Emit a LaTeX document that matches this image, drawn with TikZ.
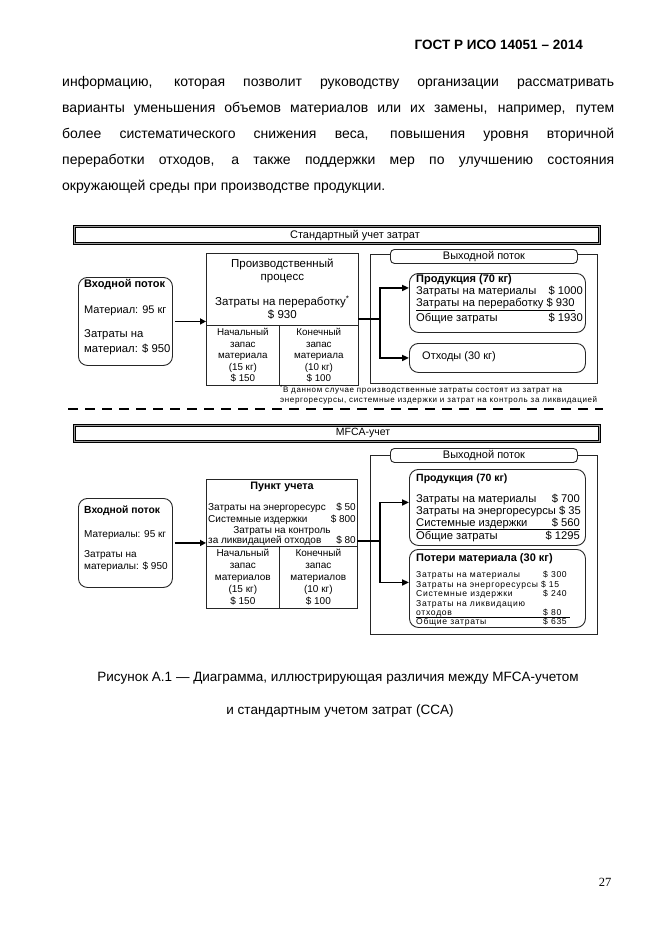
\documentclass[tikz,border=0pt]{standalone}
\usepackage{fontspec}
\setmainfont{Liberation Sans}
\newfontfamily\pagenofont{Liberation Serif}
\newfontfamily\spaced[LetterSpace=8]{Liberation Sans}
\usetikzlibrary{arrows.meta, positioning, calc}
\newcommand{\fs}[1]{\fontsize{#1}{#1}\selectfont}

\begin{document}
\begin{tikzpicture}[x=1pt, y=-1pt,
  lbl/.style={inner sep=0pt, font=\fs{10.5}},
  lft/.style={lbl, anchor=mid west},
  rgt/.style={lbl, anchor=mid east},
  cell/.style={draw=black!85, line width=0.7pt, inner sep=0pt, anchor=north west},
  rbox/.style={draw=black!85, line width=0.9pt, rounded corners=9pt, inner sep=0pt, anchor=north west},
  tabbox/.style={rbox, rounded corners=4pt, fill=white},
  titlebar/.style={draw, line width=1pt, double=black!40, double distance=0.6pt, inner sep=0pt, anchor=north west},
  flow/.style={-{Triangle[length=7pt, width=6pt]}, line width=1.8pt},
  trunk/.style={line width=1.8pt, line cap=rect},
  inflow/.style={-{Triangle[length=6pt, width=6pt]}, line width=1.6pt, shorten <=2pt},
  cutline/.style={line width=1.8pt, dash pattern=on 10pt off 7pt}
]
\fill[white] (0,0) rectangle (662,935);
\useasboundingbox (0,0) rectangle (662,935);

% page text
\node[rgt, font=\fs{13.5}\bfseries] (hdr) at (583,47) {ГОСТ Р ИСО 14051 – 2014};
\node[lft, font=\fs{14}] (par1) at (62,84) {\makebox[552pt][s]{информацию, которая позволит руководству организации рассматривать}};
\node[lft, font=\fs{14}] (par2) at (62,110) {\makebox[552pt][s]{варианты уменьшения объемов материалов или их замены, например, путем}};
\node[lft, font=\fs{14}] (par3) at (62,136) {\makebox[552pt][s]{более систематического снижения веса, повышения уровня вторичной}};
\node[lft, font=\fs{14}] (par4) at (62,162) {\makebox[552pt][s]{переработки отходов, а также поддержки мер по улучшению состояния}};
\node[lft, font=\fs{14}] (par5) at (62,188) {окружающей среды при производстве продукции.};

% ---- standard cost accounting
\node[titlebar, minimum width=525, minimum height=17] (barA) at (74,226) {};
\node[lbl, anchor=mid, font=\fs{11}] (barAt) at (355,236) {Стандартный учет затрат};

\node[rbox, minimum width=94, minimum height=88] (inA) at (78,277) {};
\node[lft, font=\fs{11}\bfseries] (inA1) at (84,285) {Входной поток};
\node[lft, font=\fs{11}] (inA2) at (84,311) {Материал: 95 кг};
\node[lft, font=\fs{11.3}] (inA3) at (84,335) {Затраты на};
\node[lft, font=\fs{11.3}] (inA4) at (84,350) {материал: \$ 950};

\node[cell, minimum width=152, minimum height=72] (procA) at (206,253) {};
\node[cell, minimum width=73, minimum height=60] (stockA1) at (206,325) {};
\node[cell, minimum width=79, minimum height=60] (stockA2) at (279,325) {};
\node[lbl, anchor=center, align=center, font=\fontsize{11.5}{13}\selectfont] (procAt) at (procA)
  {Производственный\\процесс\\[12pt]Затраты на переработку\textsuperscript{*}\\\$ 930};
\node[lbl, align=center, font=\fontsize{9.8}{11.5}\selectfont] (stockA1t) at (stockA1)
  {Начальный\\запас\\материала\\(15 кг)\\\$ 150};
\node[lbl, align=center, font=\fontsize{9.8}{11.5}\selectfont] (stockA2t) at (stockA2)
  {Конечный\\запас\\материала\\(10 кг)\\\$ 100};

\node[cell, minimum width=227, minimum height=129] (outA) at (370,254) {};
\node[tabbox, minimum width=187, minimum height=14] (tabA) at (390,249) {};
\node[lbl, anchor=mid, font=\fs{11}] (tabAt) at (tabA) {Выходной поток};

\node[rbox, minimum width=176, minimum height=59] (prodA) at (409,273) {};
\node[lft, font=\fs{11}\bfseries] (prodA1) at (416,280) {Продукция (70 кг)};
\node[lft, font=\fs{11.2}] (prodA2) at (416,292) {Затраты на материалы};
\node[rgt, font=\fs{11.2}] (prodA2v) at (583,292) {\$ 1000};
\node[lft, font=\fs{11.2}] (prodA3) at (416,304) {\underline{Затраты на переработку \$ 930}};
\node[lft, font=\fs{11.2}] (prodA4) at (416,319) {Общие затраты};
\node[rgt, font=\fs{11.2}] (prodA4v) at (583,319) {\$ 1930};

\node[rbox, minimum width=176, minimum height=29] (wasteA) at (409,343) {};
\node[lft, font=\fs{11}] (wasteAt) at (422,357) {Отходы (30 кг)};

\coordinate (splitA) at (380,319);
\draw[inflow] (inA.east) -- (inA.east -| procA.west);
\draw[trunk] (procA.east |- splitA) -- (splitA);
\draw[flow] (splitA) |- ([yshift=15pt]prodA.west);
\draw[flow] (splitA) |- (wasteA.west);

\node[lft, font=\spaced\fs{8}] (noteA1) at (280,390) {\textsuperscript{*}В данном случае производственные затраты состоят из затрат на};
\node[lft, font=\spaced\fs{8}] (noteA2) at (280,400) {энергоресурсы, системные издержки и затрат на контроль за ликвидацией};

\draw[cutline] (68,409) -- (603,409);

% ---- MFCA
\node[titlebar, minimum width=525, minimum height=16] (barB) at (74,425) {};
\node[lbl, anchor=mid, font=\fs{10.5}] (barBt) at (363,433) {MFCA-учет};

\node[rbox, minimum width=94, minimum height=89] (inB) at (78,498) {};
\node[lft, font=\fs{10.3}\bfseries] (inB1) at (84,511) {Входной поток};
\node[lft, font=\fs{10}] (inB2) at (84,535) {Материалы: 95 кг};
\node[lft, font=\fs{10}] (inB3) at (84,555) {Затраты на};
\node[lft, font=\fs{10}] (inB4) at (84,567) {материалы: \$ 950};

\node[cell, minimum width=151, minimum height=67] (procB) at (206,479) {};
\node[cell, minimum width=73, minimum height=62] (stockB1) at (206,546) {};
\node[cell, minimum width=78, minimum height=62] (stockB2) at (279,546) {};
\node[lbl, anchor=mid, font=\fs{10.8}\bfseries] (procB1) at (282,487) {Пункт учета};
\node[lft, font=\fs{10}] (procB2) at (208,508) {Затраты на энергоресурс};
\node[rgt, font=\fs{10}] (procB2v) at (356,508) {\$ 50};
\node[lft, font=\fs{10}] (procB3) at (208,520) {Системные издержки};
\node[rgt, font=\fs{10}] (procB3v) at (356,520) {\$ 800};
\node[lbl, anchor=mid, font=\fs{10}] (procB4) at (282,531) {Затраты на контроль};
\node[lft, font=\fs{10}] (procB5) at (208,541) {за ликвидацией отходов};
\node[rgt, font=\fs{10}] (procB5v) at (356,541) {\$ 80};
\node[lbl, align=center, font=\fontsize{10}{12}\selectfont] (stockB1t) at (stockB1)
  {Начальный\\запас\\материалов\\(15 кг)\\\$ 150};
\node[lbl, align=center, font=\fontsize{10}{12}\selectfont] (stockB2t) at (stockB2)
  {Конечный\\запас\\материалов\\(10 кг)\\\$ 100};

\node[cell, minimum width=227, minimum height=179] (outB) at (370,455) {};
\node[tabbox, minimum width=187, minimum height=14] (tabB) at (390,448) {};
\node[lbl, anchor=mid, font=\fs{11}] (tabBt) at (tabB) {Выходной поток};

\node[rbox, minimum width=176, minimum height=76] (prodB) at (409,469) {};
\node[lft, font=\fs{10.5}\bfseries] (prodB1) at (416,479) {Продукция (70 кг)};
\node[lft, font=\fs{11.2}] (prodB2) at (416,500) {Затраты на материалы};
\node[rgt, font=\fs{11.2}] (prodB2v) at (580,500) {\$ 700};
\node[lft, font=\fs{11.2}] (prodB3) at (416,512) {Затраты на энергоресурсы \$ 35};
\node[lft, font=\fs{11.2}] (prodB4) at (416,524) {Системные издержки};
\node[rgt, font=\fs{11.2}] (prodB4v) at (580,524) {\$ 560};
\draw[line width=0.7pt] ([yshift=-2.5pt]prodB4.base west) -- ([yshift=-2.5pt]prodB4v.base east);
\node[lft, font=\fs{11.2}] (prodB5) at (416,537) {Общие затраты};
\node[rgt, font=\fs{11.2}] (prodB5v) at (580,537) {\$ 1295};

\node[rbox, minimum width=176, minimum height=78] (lossB) at (409,549) {};
\node[lft, font=\fs{11}\bfseries] (lossB1) at (416,559) {Потери материала (30 кг)};
\node[lft, font=\spaced\fs{8.6}] (lossB2) at (416,575) {Затраты на материалы};
\node[lft, font=\spaced\fs{8.6}] (lossB2v) at (543,575) {\$ 300};
\node[lft, font=\spaced\fs{8.6}] (lossB3) at (416,585) {Затраты на энергоресурсы \$ 15};
\node[lft, font=\spaced\fs{8.6}] (lossB4) at (416,594) {Системные издержки};
\node[lft, font=\spaced\fs{8.6}] (lossB4v) at (543,594) {\$ 240};
\node[lft, font=\spaced\fs{8.6}] (lossB5) at (416,604) {Затраты на ликвидацию};
\node[lft, font=\spaced\fs{8.6}] (lossB6) at (416,613) {отходов};
\node[lft, font=\spaced\fs{8.6}] (lossB6v) at (543,613) {\$ 80};
\draw[line width=0.7pt] ([yshift=-2pt]lossB6.base west) -- ([yshift=-2pt,xshift=8pt]lossB6v.base east);
\node[lft, font=\spaced\fs{8.6}] (lossB7) at (416,622) {Общие затраты};
\node[lft, font=\spaced\fs{8.6}] (lossB7v) at (543,622) {\$ 635};

\coordinate (splitB) at (380,541);
\draw[inflow] (inB.east) -- (inB.east -| procB.west);
\draw[trunk] (procB.east |- splitB) -- (splitB);
\draw[flow] (splitB) |- ([yshift=5pt]prodB.west);
\draw[flow] (splitB) |- ([yshift=6pt]lossB.west);

% caption and page number
\node[lbl, anchor=mid, font=\fs{13.5}] (cap1) at (338,679) {Рисунок А.1 — Диаграмма, иллюстрирующая различия между MFCA-учетом};
\node[lbl, anchor=mid, font=\fs{13.5}] (cap2) at (340,712) {и стандартным учетом затрат (CCA)};
\node[lbl, anchor=mid, font=\pagenofont\fs{12.5}] (pageno) at (605,884) {27};
\end{tikzpicture}
\end{document}
